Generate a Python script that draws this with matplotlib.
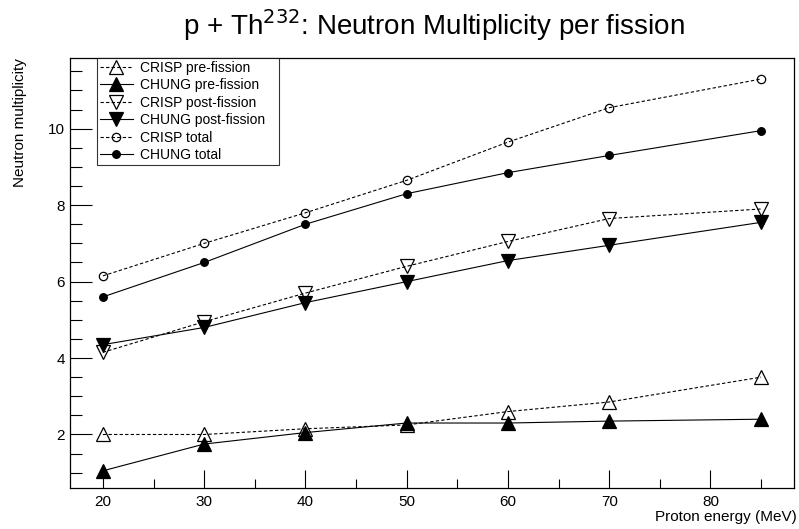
import matplotlib
matplotlib.use("Agg")
import matplotlib.pyplot as plt
from matplotlib.ticker import MultipleLocator

plt.rcParams["font.family"] = ["Liberation Sans", "DejaVu Sans"]

energy = [20, 30, 40, 50, 60, 70, 85]

crisp_pre = [2.0, 2.0, 2.15, 2.25, 2.6, 2.85, 3.5]
chung_pre = [1.05, 1.75, 2.05, 2.3, 2.3, 2.35, 2.4]
crisp_post = [4.15, 4.95, 5.7, 6.4, 7.05, 7.65, 7.9]
chung_post = [4.35, 4.8, 5.45, 6.0, 6.55, 6.95, 7.55]
crisp_total = [6.15, 7.0, 7.8, 8.65, 9.65, 10.55, 11.3]
chung_total = [5.6, 6.5, 7.5, 8.3, 8.85, 9.3, 9.95]

series = [
    ("CRISP pre-fission", crisp_pre, "^", "none", "--", 10),
    ("CHUNG pre-fission", chung_pre, "^", "black", "-", 10),
    ("CRISP post-fission", crisp_post, "v", "none", "--", 10),
    ("CHUNG post-fission", chung_post, "v", "black", "-", 10),
    ("CRISP total", crisp_total, "o", "none", "--", 6),
    ("CHUNG total", chung_total, "o", "black", "-", 5.5),
]

W, H = 799, 529
fig = plt.figure(figsize=(W / 100, H / 100), dpi=100)
# frame in pixels: left 70, right 794, top 58, bottom 488
ax = fig.add_axes((70 / W, 1 - 488 / H, 724 / W, 430 / H))

for label, vals, mk, fc, ls, ms in series:
    ax.plot(energy, vals, color="black", linestyle=ls, linewidth=0.8,
            dashes=(3, 2) if ls == "--" else (None, None),
            marker=mk, markersize=ms, markerfacecolor=fc,
            markeredgecolor="black", markeredgewidth=0.9, label=label)

ax.set_xlim(16.75, 88.25)
ax.set_ylim(0.6, 11.85)
ax.xaxis.set_major_locator(MultipleLocator(10))
ax.xaxis.set_minor_locator(MultipleLocator(5))
ax.yaxis.set_major_locator(MultipleLocator(2))
ax.yaxis.set_minor_locator(MultipleLocator(0.5))
ax.tick_params(axis="both", which="both", direction="in", labelsize=11,
               width=0.8, top=False, right=False)
ax.tick_params(axis="x", which="major", length=13, pad=5)
ax.tick_params(axis="x", which="minor", length=6.5)
ax.tick_params(axis="y", which="major", length=16)
ax.tick_params(axis="y", which="minor", length=8.5)
for sp in ax.spines.values():
    sp.set_linewidth(0.9)

ax.set_xlabel("Proton energy (MeV)", fontsize=11, ha="right")
ax.xaxis.set_label_coords(1 + 3 / 724, -29 / 430, transform=ax.transAxes)
ax.xaxis.label.set_va("center")
ax.set_ylabel("Neutron multiplicity", fontsize=11, ha="right")
ax.yaxis.set_label_coords(-50 / 724, 1.0, transform=ax.transAxes)
ax.yaxis.label.set_va("center")

fig.text(434 / W, 1 - 35 / H,
         r"p + Th$^{232}$: Neutron Multiplicity per fission",
         fontsize=20, ha="center", va="baseline")

leg = ax.legend(loc="upper left", bbox_to_anchor=(27 / 724, 0, 182 / 724, 1.0),
                mode="expand", frameon=True, fancybox=False, edgecolor="black",
                fontsize=10, handlelength=2.4, handletextpad=0.5,
                labelspacing=0.25, borderpad=0.2, borderaxespad=0)
leg.get_frame().set_linewidth(0.8)

fig.savefig("out.png", dpi=100)
